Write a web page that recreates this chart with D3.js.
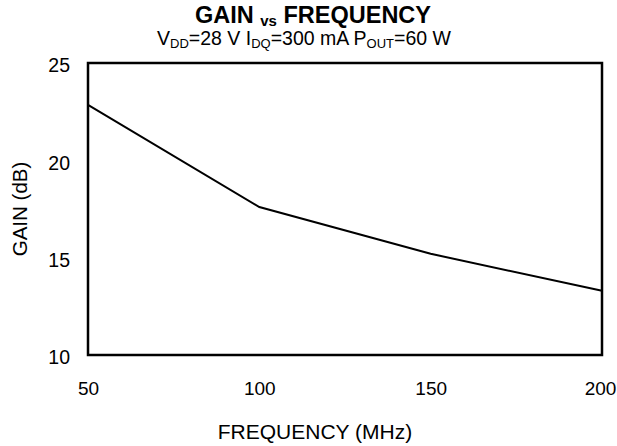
<!DOCTYPE html>
<html>
<head>
<meta charset="utf-8">
<script src="https://cdn.jsdelivr.net/npm/d3@7"></script>
<style>
  body { margin: 0; background: #fff; }
  text { font-family: "Liberation Sans", Arial, sans-serif; fill: #000; }
</style>
</head>
<body>
<div id="chart"></div>
<script>
// frequency (MHz) and gain (dB)
var freq = [50, 100, 150, 200];
var gain = [22.85, 17.6, 15.2, 13.3];
var xTicks = [50, 100, 150, 200];
var yTicks = [10, 15, 20, 25];

var width = 617, height = 446;
var margin = { left: 88, right: 15, top: 63, bottom: 91 };
var w = width - margin.left - margin.right;
var h = height - margin.top - margin.bottom;

var svg = d3.select('#chart').append('svg')
    .attr('width', width)
    .attr('height', height);

var x = d3.scaleLinear().domain([50, 200]).range([0, w]);
var y = d3.scaleLinear().domain([10, 25]).range([h, 0]);

var g = svg.append('g')
    .attr('transform', 'translate(' + margin.left + ',' + margin.top + ')');

// tick labels only, no tick marks
var xAxis = d3.axisBottom(x).tickValues(xTicks).tickSize(0).tickPadding(27);
var yAxis = d3.axisLeft(y).tickValues(yTicks).tickSize(0).tickPadding(18);

g.append('g')
    .attr('transform', 'translate(0,' + h + ')')
    .call(xAxis)
    .call(function (s) { s.select('.domain').remove(); })
    .selectAll('text')
    .style('font-size', '19px')
    // keep the last label inside the window
    .attr('dx', function (d) { return d === 200 ? -2 : 0; });

g.append('g')
    .call(yAxis)
    .call(function (s) { s.select('.domain').remove(); })
    .selectAll('text').style('font-size', '19.5px').attr('dy', '0.45em');

var line = d3.line()
    .x(function (d, i) { return x(freq[i]); })
    .y(function (d) { return y(d); });

g.append('path')
    .attr('d', line(gain))
    .attr('fill', 'none')
    .attr('stroke', '#000')
    .attr('stroke-width', 2);

// frame
g.append('rect')
    .attr('width', w)
    .attr('height', h)
    .attr('fill', 'none')
    .attr('stroke', '#000')
    .attr('stroke-width', 2.5);

// titles
var title = svg.append('text')
    .attr('x', 313)
    .attr('y', 23)
    .attr('text-anchor', 'middle')
    .style('font-size', '23.5px')
    .style('font-weight', 'bold');
title.append('tspan').text('GAIN ');
title.append('tspan').attr('dy', 3).style('font-size', '15px').text('vs');
title.append('tspan').attr('dy', -3).text(' FREQUENCY');

var sub = svg.append('text')
    .attr('x', 304)
    .attr('y', 45)
    .attr('text-anchor', 'middle')
    .style('font-size', '19.5px');
sub.append('tspan').text('V');
sub.append('tspan').attr('dy', 3).style('font-size', '13px').text('DD');
sub.append('tspan').attr('dy', -3).text('=28 V I');
sub.append('tspan').attr('dy', 3).style('font-size', '13px').text('DQ');
sub.append('tspan').attr('dy', -3).text('=300 mA P');
sub.append('tspan').attr('dy', 3).style('font-size', '13px').text('OUT');
sub.append('tspan').attr('dy', -3).text('=60 W');

svg.append('text')
    .attr('x', 315)
    .attr('y', 439)
    .attr('text-anchor', 'middle')
    .style('font-size', '21px')
    .text('FREQUENCY (MHz)');

svg.append('text')
    .attr('transform', 'translate(27,' + (margin.top + h / 2) + ') rotate(-90)')
    .attr('text-anchor', 'middle')
    .style('font-size', '20.5px')
    .text('GAIN (dB)');
</script>
</body>
</html>
